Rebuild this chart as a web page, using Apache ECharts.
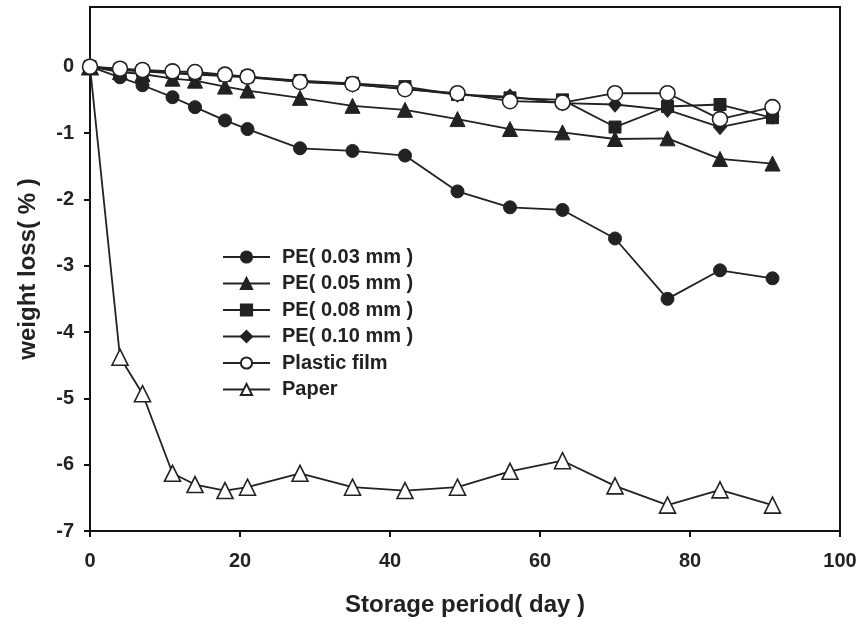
<!DOCTYPE html>
<html>
<head>
<meta charset="utf-8">
<script src="https://cdn.jsdelivr.net/npm/echarts@6/dist/echarts.min.js"></script>
<style>
html,body{margin:0;padding:0;background:#fff;}
#chart{width:864px;height:628px;}
</style>
</head>
<body>
<div id="chart"></div>
<script>
var days = [0, 4, 7, 11, 14, 18, 21, 28, 35, 42, 49, 56, 63, 70, 77, 84, 91];
var pe003 = [0, -0.16, -0.28, -0.46, -0.61, -0.81, -0.94, -1.23, -1.27, -1.34, -1.88, -2.12, -2.16, -2.59, -3.50, -3.07, -3.19];
var pe005 = [0, -0.08, -0.11, -0.18, -0.21, -0.30, -0.36, -0.47, -0.59, -0.65, -0.79, -0.94, -0.99, -1.09, -1.08, -1.39, -1.46];
var pe008 = [0, -0.04, -0.06, -0.09, -0.11, -0.13, -0.15, -0.21, -0.25, -0.30, -0.42, -0.47, -0.50, -0.91, -0.60, -0.57, -0.77];
var pe010 = [0, -0.05, -0.07, -0.10, -0.12, -0.14, -0.16, -0.23, -0.27, -0.33, -0.42, -0.45, -0.55, -0.57, -0.65, -0.91, -0.75];
var plastic = [0, -0.03, -0.05, -0.07, -0.08, -0.12, -0.15, -0.23, -0.26, -0.34, -0.40, -0.52, -0.54, -0.40, -0.40, -0.79, -0.61];
var paper = [0, -4.38, -4.93, -6.13, -6.30, -6.39, -6.34, -6.13, -6.34, -6.39, -6.34, -6.10, -5.94, -6.32, -6.61, -6.38, -6.61];
var yTicks = [-7, -6, -5, -4, -3, -2, -1, 0];
var xTicks = [0, 20, 40, 60, 80, 100];
var seriesNames = ['PE( 0.03 mm )', 'PE( 0.05 mm )', 'PE( 0.08 mm )', 'PE( 0.10 mm )', 'Plastic film', 'Paper'];

function pairs(arr){ return days.map(function(d,i){ return [d, arr[i]]; }); }

var ink = '#222';
var font = '"Liberation Sans", Arial, Helvetica, sans-serif';

function mk(name, arr, symbol, size, hollow, z){
  return {
    name: name, type: 'line', data: pairs(arr), symbol: symbol, symbolSize: size,
    z: z,
    lineStyle: {color: ink, width: 1.8},
    itemStyle: {color: hollow ? '#fff' : ink, borderColor: ink, borderWidth: hollow ? 1.6 : 1},
    emphasis: {disabled: true},
    animation: false
  };
}

var chart = echarts.init(document.getElementById('chart'));
chart.setOption({
  animation: false,
  backgroundColor: '#fff',
  grid: {left: 90, right: 24, top: 7, bottom: 97, show: true, borderColor: '#111', borderWidth: 2, backgroundColor: 'transparent'},
  xAxis: {
    type: 'value', min: 0, max: 100, interval: 20,
    name: 'Storage period( day )', nameLocation: 'middle', nameGap: 62,
    nameTextStyle: {fontFamily: font, fontWeight: 'bold', fontSize: 24, color: ink},
    axisLine: {show: true, onZero: false, lineStyle: {color: '#111', width: 2}},
    axisTick: {show: true, inside: false, length: 6, lineStyle: {color: '#111', width: 2}, customValues: xTicks},
    axisLabel: {fontFamily: font, fontWeight: 'bold', fontSize: 20, color: ink, margin: 20, customValues: xTicks},
    splitLine: {show: false}
  },
  yAxis: {
    type: 'value', min: -7, max: 0.9, interval: 1,
    name: 'weight loss( % )', nameLocation: 'middle', nameGap: 50, nameRotate: 90,
    nameTextStyle: {fontFamily: font, fontWeight: 'bold', fontSize: 24, color: ink},
    axisLine: {show: true, onZero: false, lineStyle: {color: '#111', width: 2}},
    axisTick: {show: true, inside: false, length: 6, lineStyle: {color: '#111', width: 2}, customValues: yTicks},
    axisLabel: {fontFamily: font, fontWeight: 'bold', fontSize: 20, color: ink, margin: 16, customValues: yTicks},
    splitLine: {show: false}
  },
  legend: {
    orient: 'vertical', left: 222, top: 247, padding: 0,
    itemWidth: 47, itemHeight: 14, itemGap: 6.5,
    textStyle: {fontFamily: font, fontWeight: 'bold', fontSize: 20, color: ink, padding: [0, 0, 0, 7]},
    data: seriesNames,
    selectedMode: false
  },
  series: [
    mk(seriesNames[5], paper, 'triangle', 16, true, 2),
    mk(seriesNames[0], pe003, 'circle', 13, false, 3),
    mk(seriesNames[1], pe005, 'triangle', 15, false, 4),
    mk(seriesNames[2], pe008, 'rect', 12, false, 5),
    mk(seriesNames[3], pe010, 'diamond', [13, 15], false, 6),
    mk(seriesNames[4], plastic, 'circle', 15, true, 7)
  ]
});
</script>
</body>
</html>
